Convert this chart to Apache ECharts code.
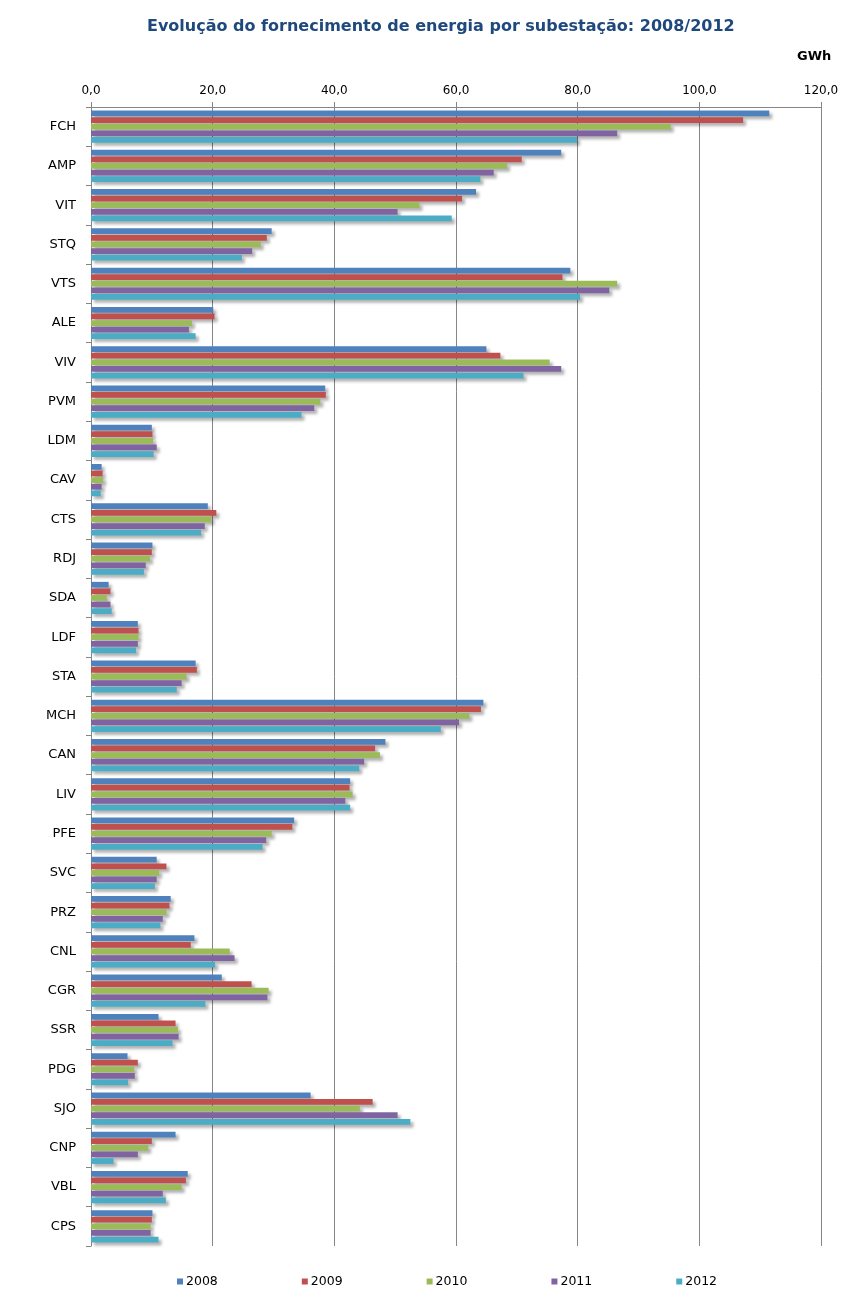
<!DOCTYPE html>
<html>
<head>
<meta charset="utf-8">
<script src="https://cdn.jsdelivr.net/npm/echarts@6/dist/echarts.min.js"></script>
<style>html,body{margin:0;padding:0;background:#fff}#c{width:853px;height:1311px}</style>
</head>
<body>
<div id="c"></div>
<script>
const categories = ['FCH','AMP','VIT','STQ','VTS','ALE','VIV','PVM','LDM','CAV','CTS','RDJ','SDA','LDF','STA','MCH','CAN','LIV','PFE','SVC','PRZ','CNL','CGR','SSR','PDG','SJO','CNP','VBL','CPS'];
const seriesNames = ['2008','2009','2010','2011','2012'];
const v2008 = [111.5,77.3,63.3,29.7,78.8,20.1,65.0,38.5,10.0,1.75,19.2,10.1,2.9,7.7,17.2,64.5,48.4,42.6,33.4,10.8,13.1,17.0,21.5,11.1,6.0,36.1,13.9,15.9,10.1];
const v2009 = [107.2,70.8,61.0,28.9,77.5,20.3,67.3,38.6,10.1,1.9,20.6,10.0,3.2,7.8,17.4,64.1,46.7,42.5,33.1,12.4,12.9,16.4,26.4,13.9,7.7,46.3,10.0,15.6,10.0];
const v2010 = [95.3,68.4,54.0,27.9,86.5,16.6,75.4,37.7,10.2,2.0,19.8,9.7,2.6,7.8,15.7,62.2,47.5,43.0,29.7,11.2,12.4,22.8,29.2,14.3,7.1,44.2,9.4,14.9,9.8];
const v2011 = [86.5,66.2,50.4,26.5,85.2,16.1,77.3,36.7,10.8,1.75,18.7,9.0,3.2,7.7,14.9,60.5,44.9,41.8,28.8,10.8,11.8,23.6,29.0,14.4,7.2,50.4,7.7,11.8,9.8];
const v2012 = [79.9,64.0,59.3,24.8,80.4,17.2,71.1,34.6,10.3,1.6,18.1,8.7,3.4,7.4,14.1,57.5,44.1,42.6,28.2,10.5,11.4,20.4,18.8,13.4,6.1,52.5,3.7,12.3,11.1];
const seriesValues = [v2008, v2009, v2010, v2011, v2012];
const colors = ['#4F81BD','#C0504D','#9BBB59','#8064A2','#4BACC6'];
const FONT = 'DejaVu Sans, Verdana, sans-serif';

const chart = echarts.init(document.getElementById('c'), null, {renderer:'canvas'});
chart.setOption({
  animation: false,
  backgroundColor: '#fff',
  color: colors,
  title: [
    {text: 'Evolução do fornecimento de energia por subestação: 2008/2012', left: 142, top: 14,
     textStyle: {fontFamily: FONT, fontSize: 16, fontWeight: 'bold', color: '#1F497D'}},
    {text: 'GWh', left: 792, top: 45,
     textStyle: {fontFamily: FONT, fontSize: 13, fontWeight: 'bold', color: '#000'}}
  ],
  legend: {
    data: seriesNames, top: 1270, left: 172, itemWidth: 6, itemHeight: 6, itemGap: 84,
    icon: 'rect', textStyle: {fontFamily: FONT, fontSize: 12.5, color: '#000', padding: [0,0,0,-2]}
  },
  grid: {left: 91, right: 32, top: 107, bottom: 65, containLabel: false},
  xAxis: {
    type: 'value', position: 'top', min: 0, max: 120, interval: 20,
    axisLine: {show: true, lineStyle: {color: '#868686', width: 1}},
    axisTick: {show: true, length: 5, lineStyle: {color: '#868686'}},
    splitLine: {show: true, lineStyle: {color: '#868686', width: 1}},
    axisLabel: {margin: 10, color: '#000', fontSize: 12, fontFamily: FONT,
      formatter: v => v.toFixed(1).replace('.', ',')}
  },
  yAxis: {
    type: 'category', data: categories, inverse: true,
    axisLine: {show: true, lineStyle: {color: '#868686'}},
    axisTick: {show: true, length: 5, lineStyle: {color: '#868686'}},
    axisLabel: {margin: 15, color: '#000', fontSize: 13, fontFamily: FONT},
    splitLine: {show: false}
  },
  series: seriesNames.map((name, i) => ({
    name: name, type: 'bar', data: seriesValues[i],
    barCategoryGap: '18%', barGap: '15%',
    itemStyle: {color: colors[i], shadowBlur: 3, shadowOffsetX: 3, shadowOffsetY: 3, shadowColor: 'rgba(0,0,0,0.3)'}
  }))
});
</script>
</body>
</html>
